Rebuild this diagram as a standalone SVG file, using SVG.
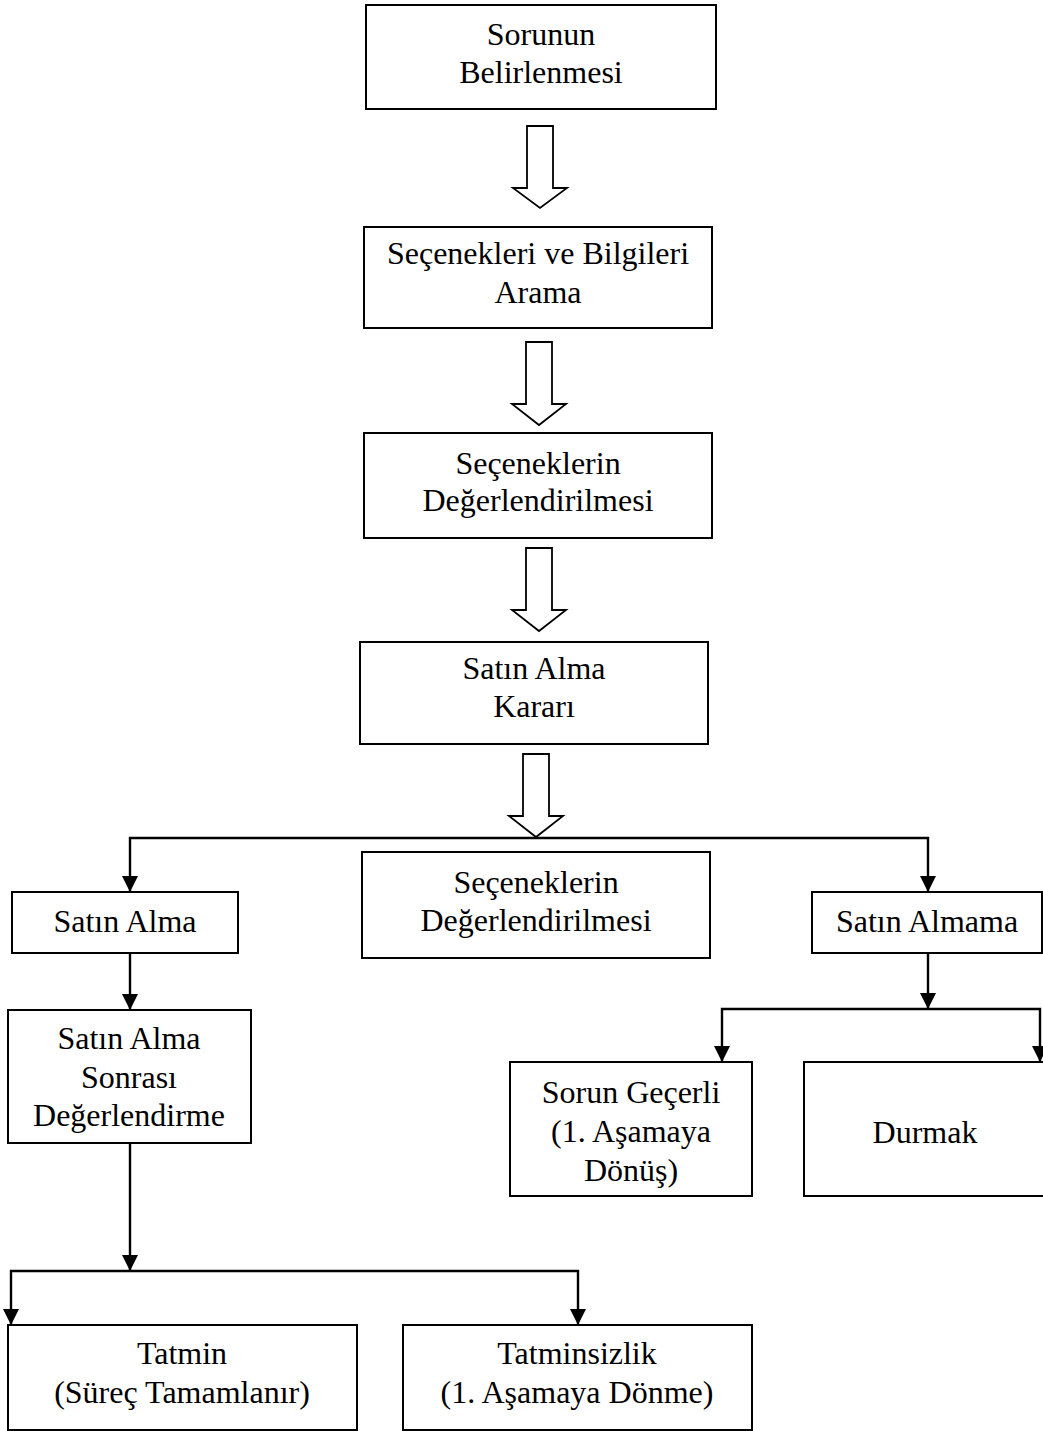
<svg xmlns="http://www.w3.org/2000/svg" width="1043" height="1431" viewBox="0 0 1043 1431">
  <style>
    .box { fill: #ffffff; stroke: #000000; stroke-width: 2; }
    .big { fill: #ffffff; stroke: #000000; stroke-width: 1.8; stroke-linejoin: miter; }
    .lbl { font-family: 'Liberation Serif', 'Times New Roman', Times, 'DejaVu Serif', serif; font-size: 32px; fill: #000000; text-anchor: middle; }
    .link { fill: none; stroke: #000000; stroke-width: 2.4; }
  </style>
  <defs>
    <marker id="tip" markerUnits="userSpaceOnUse" markerWidth="17" markerHeight="16" refX="16" refY="8" orient="auto">
      <path d="M0,0 L16,8 L0,16 Z" fill="#000000"/>
    </marker>
  </defs>
  <rect width="1043" height="1431" fill="#ffffff"/>

  <g font-family="'Liberation Serif', 'Times New Roman', Times, serif">
  <!-- main chain -->
  <g id="sorunun-belirlenmesi">
    <rect class="box" x="366" y="5" width="350" height="104"/>
    <text class="lbl" x="541" y="45">Sorunun</text>
    <text class="lbl" x="541" y="83">Belirlenmesi</text>
  </g>
  <g id="secenekleri-arama">
    <rect class="box" x="364" y="227" width="348" height="101"/>
    <text class="lbl" x="538" y="264">Seçenekleri ve Bilgileri</text>
    <text class="lbl" x="538" y="303">Arama</text>
  </g>
  <g id="seceneklerin-degerlendirilmesi">
    <rect class="box" x="364" y="433" width="348" height="105"/>
    <text class="lbl" x="538" y="474">Seçeneklerin</text>
    <text class="lbl" x="538" y="511">Değerlendirilmesi</text>
  </g>
  <g id="satin-alma-karari">
    <rect class="box" x="360" y="642" width="348" height="102"/>
    <text class="lbl" x="534" y="679">Satın Alma</text>
    <text class="lbl" x="534" y="717">Kararı</text>
  </g>

  <!-- second level -->
  <g id="satin-alma">
    <rect class="box" x="12" y="892" width="226" height="61"/>
    <text class="lbl" x="125" y="932">Satın Alma</text>
  </g>
  <g id="seceneklerin-degerlendirilmesi-2">
    <rect class="box" x="362" y="852" width="348" height="106"/>
    <text class="lbl" x="536" y="893">Seçeneklerin</text>
    <text class="lbl" x="536" y="931">Değerlendirilmesi</text>
  </g>
  <g id="satin-almama">
    <rect class="box" x="812" y="892" width="230" height="61"/>
    <text class="lbl" x="927" y="932">Satın Almama</text>
  </g>

  <!-- buying branch -->
  <g id="satin-alma-sonrasi">
    <rect class="box" x="8" y="1010" width="243" height="133"/>
    <text class="lbl" x="129" y="1049">Satın Alma</text>
    <text class="lbl" x="129" y="1088">Sonrası</text>
    <text class="lbl" x="129" y="1126">Değerlendirme</text>
  </g>
  <g id="tatmin">
    <rect class="box" x="8" y="1325" width="349" height="105"/>
    <text class="lbl" x="182" y="1364">Tatmin</text>
    <text class="lbl" x="182" y="1403">(Süreç Tamamlanır)</text>
  </g>
  <g id="tatminsizlik">
    <rect class="box" x="403" y="1325" width="349" height="105"/>
    <text class="lbl" x="577" y="1364">Tatminsizlik</text>
    <text class="lbl" x="577" y="1403">(1. Aşamaya Dönme)</text>
  </g>

  <!-- not-buying branch -->
  <g id="sorun-gecerli">
    <rect class="box" x="510" y="1062" width="242" height="134"/>
    <text class="lbl" x="631" y="1103">Sorun Geçerli</text>
    <text class="lbl" x="631" y="1142">(1. Aşamaya</text>
    <text class="lbl" x="631" y="1181">Dönüş)</text>
  </g>
  <g id="durmak">
    <rect class="box" x="804" y="1062" width="242" height="134"/>
    <text class="lbl" x="925" y="1143">Durmak</text>
  </g>
  </g>

  <!-- connectors -->
  <g id="connectors">
    <!-- hollow block arrows between stages -->
    <path class="big" d="M527,126 H553 V188 H567 L540,208 L513,188 H527 Z"/>
    <path class="big" d="M526,342 H552 V404 H566 L539,425 L512,404 H526 Z"/>
    <path class="big" d="M526,548 H552 V610 H566 L539,631 L512,610 H526 Z"/>
    <path class="big" d="M523,754 H549 V816 H563 L536,837 L509,816 H523 Z"/>

    <!-- decision split -->
    <path class="link" d="M536,838 H130 V892" marker-end="url(#tip)"/>
    <path class="link" d="M536,838 H928 V892" marker-end="url(#tip)"/>

    <!-- buying branch -->
    <path class="link" d="M130,953 V1010" marker-end="url(#tip)"/>
    <path class="link" d="M130,1143 V1271" marker-end="url(#tip)"/>
    <path class="link" d="M130,1271 H11 V1325" marker-end="url(#tip)"/>
    <path class="link" d="M130,1271 H578 V1325" marker-end="url(#tip)"/>

    <!-- not-buying branch -->
    <path class="link" d="M928,953 V1009" marker-end="url(#tip)"/>
    <path class="link" d="M928,1009 H722 V1062" marker-end="url(#tip)"/>
    <path class="link" d="M928,1009 H1040 V1062" marker-end="url(#tip)"/>
  </g>
</svg>
